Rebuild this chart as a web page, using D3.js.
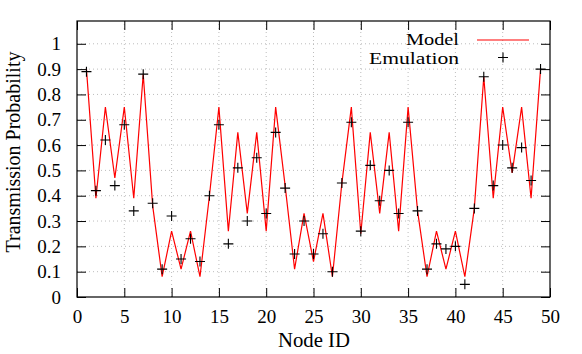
<!DOCTYPE html>
<html>
<head>
<meta charset="utf-8">
<script src="https://cdn.jsdelivr.net/npm/d3@7"></script>
<style>
  html, body { margin: 0; padding: 0; background: #fff; }
  svg { display: block; }
  text { font-family: "Liberation Serif", "Times New Roman", serif; fill: #000; }
</style>
</head>
<body>
<svg id="chart" width="582" height="354"></svg>
<script>
const nodeIds = d3.range(1, 50);
const modelValues = [
  0.90, 0.39, 0.75, 0.47, 0.75, 0.39, 0.88, 0.36, 0.08, 0.26,
  0.11, 0.26, 0.08, 0.40, 0.75, 0.26, 0.65, 0.33, 0.65, 0.26,
  0.75, 0.44, 0.11, 0.33, 0.14, 0.33, 0.08, 0.45, 0.75, 0.25,
  0.65, 0.33, 0.65, 0.26, 0.75, 0.34, 0.08, 0.26, 0.11, 0.26,
  0.08, 0.35, 0.87, 0.39, 0.75, 0.49, 0.75, 0.39, 0.90
];
const emulationValues = [
  0.89, 0.42, 0.62, 0.44, 0.68, 0.34, 0.88, 0.37, 0.11, 0.32,
  0.15, 0.23, 0.14, 0.40, 0.68, 0.21, 0.51, 0.30, 0.55, 0.33,
  0.65, 0.43, 0.17, 0.30, 0.17, 0.25, 0.10, 0.45, 0.69, 0.26,
  0.52, 0.38, 0.50, 0.33, 0.69, 0.34, 0.11, 0.21, 0.19, 0.20,
  0.05, 0.35, 0.87, 0.44, 0.60, 0.51, 0.59, 0.46, 0.90
];
const xTicks = [0, 5, 10, 15, 20, 25, 30, 35, 40, 45, 50];
const yTicks = [0, 0.1, 0.2, 0.3, 0.4, 0.5, 0.6, 0.7, 0.8, 0.9, 1];
const seriesNames = ["Model", "Emulation"];
const xTitle = "Node ID";
const yTitle = "Transmission Probability";

const svg = d3.select("#chart");
const L = 77, R = 550, T = 21, B = 297;
const x = d3.scaleLinear().domain([0, 50]).range([L, R]);
const y = d3.scaleLinear().domain([0, 1.09]).range([B, T]);
const fs = 19;
const tickLen = 9;

// grid
const grid = svg.append("g").attr("stroke", "#bdbdbd").attr("stroke-width", 1)
  .attr("stroke-dasharray", "1,3");
xTicks.filter(t => t > 0 && t < 50).forEach(t => {
  grid.append("line").attr("x1", x(t)).attr("x2", x(t)).attr("y1", B).attr("y2", T);
});
yTicks.filter(t => t > 0).forEach(t => {
  grid.append("line").attr("x1", L).attr("x2", R).attr("y1", y(t)).attr("y2", y(t));
});

// axes with inward ticks (mirrored)
const axB = d3.axisBottom(x).tickValues(xTicks).tickSizeInner(-tickLen).tickSizeOuter(0).tickPadding(13)
  .tickFormat(d3.format("d"));
const gB = svg.append("g").attr("transform", `translate(0,${B})`).call(axB);
const axT = d3.axisTop(x).tickValues(xTicks).tickSizeInner(-tickLen).tickSizeOuter(0).tickFormat("");
const gT = svg.append("g").attr("transform", `translate(0,${T})`).call(axT);
const axL = d3.axisLeft(y).tickValues(yTicks).tickSizeInner(-tickLen).tickSizeOuter(0).tickPadding(16)
  .tickFormat(d => d === 0 ? "0" : d === 1 ? "1" : d3.format(".1f")(d));
const gL = svg.append("g").attr("transform", `translate(${L},0)`).call(axL);
const axR = d3.axisRight(y).tickValues(yTicks).tickSizeInner(-tickLen).tickSizeOuter(0).tickFormat("");
const gR = svg.append("g").attr("transform", `translate(${R},0)`).call(axR);

[gB, gT, gL, gR].forEach(g => {
  g.select(".domain").remove();
  g.selectAll(".tick line").attr("stroke", "#000").attr("stroke-width", 1);
  g.selectAll(".tick text").attr("font-size", fs)
    .attr("font-family", "'Liberation Serif', serif").attr("fill", "#000");
});

// frame
svg.append("rect").attr("x", L).attr("y", T).attr("width", R - L).attr("height", B - T)
  .attr("fill", "none").attr("stroke", "#000").attr("stroke-width", 1.2);

// model line
const line = d3.line().x((d, i) => x(nodeIds[i])).y(d => y(d));
svg.append("path").datum(modelValues).attr("d", line)
  .attr("fill", "none").attr("stroke", "#ff0000").attr("stroke-width", 1.2)
  .attr("stroke-linejoin", "miter");

// emulation crosses
const arm = 5;
const crossPath = (cx, cy) => `M${cx - arm},${cy}H${cx + arm}M${cx},${cy - arm}V${cy + arm}`;
svg.append("g").selectAll("path").data(emulationValues).join("path")
  .attr("d", (d, i) => crossPath(x(nodeIds[i]), y(d)))
  .attr("stroke", "#000").attr("stroke-width", 1.1).attr("fill", "none");

// legend
const lfs = 17;
const lg = svg.append("g");
lg.append("text").attr("x", 459).attr("y", 44.5).attr("text-anchor", "end")
  .attr("font-size", lfs).attr("textLength", 53).attr("lengthAdjust", "spacingAndGlyphs")
  .text(seriesNames[0]);
lg.append("line").attr("x1", 477).attr("x2", 529).attr("y1", 40).attr("y2", 40)
  .attr("stroke", "#ff0000").attr("stroke-width", 1.2);
lg.append("text").attr("x", 459).attr("y", 63.5).attr("text-anchor", "end")
  .attr("font-size", lfs).attr("textLength", 90).attr("lengthAdjust", "spacingAndGlyphs")
  .text(seriesNames[1]);
lg.append("path").attr("d", crossPath(503, 57.5)).attr("stroke", "#000").attr("stroke-width", 1.1);

// titles
svg.append("text").attr("x", (L + R) / 2 + 0.5).attr("y", 347).attr("text-anchor", "middle")
  .attr("font-size", fs + 1).attr("textLength", 72).attr("lengthAdjust", "spacingAndGlyphs")
  .text(xTitle);
svg.append("text").attr("transform", "translate(20,152) rotate(-90)").attr("text-anchor", "middle")
  .attr("font-size", fs + 1).text(yTitle);
</script>
</body>
</html>
